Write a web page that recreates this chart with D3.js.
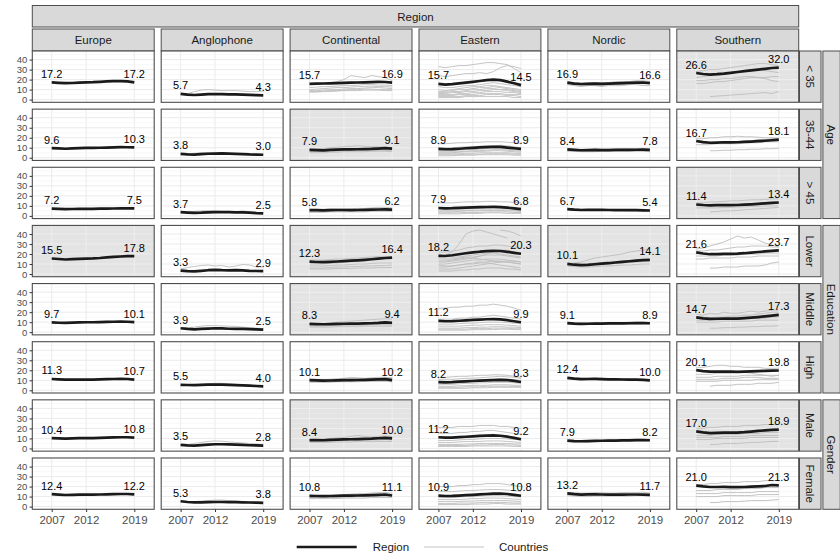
<!DOCTYPE html>
<html>
<head>
<meta charset="utf-8">
<script src="https://cdn.jsdelivr.net/npm/d3@7"></script>
<style>
  html, body { margin: 0; padding: 0; background: #fff; }
  svg { display: block; font-family: "Liberation Sans", Arial, Helvetica, sans-serif; }
</style>
</head>
<body>
<svg id="chart" width="840" height="558"></svg>
<script>
// ---------------- DATA ----------------
const years = [2007, 2008, 2009, 2010, 2011, 2012, 2013, 2014, 2015, 2016, 2017, 2018, 2019];
const xTickYears = [2007, 2012, 2019];
const yTickValues = [0, 10, 20, 30, 40];
const regions = ["Europe", "Anglophone", "Continental", "Eastern", "Nordic", "Southern"];
const groups = ["< 35", "35-44", "> 45", "Lower", "Middle", "High", "Male", "Female"];
const groupFamily = ["Age", "Age", "Age", "Education", "Education", "Education", "Gender", "Gender"];
const familyNames = ["Age", "Education", "Gender"];
const topStripLabel = "Region";
const legendLabels = ["Region", "Countries"];
const shadedPanels = [
  ["Southern"],
  ["Continental"],
  ["Southern"],
  ["Europe", "Continental", "Eastern", "Nordic"],
  ["Continental", "Southern"],
  [],
  ["Continental", "Southern"],
  []
];

// Region averages (rows = groups)
const europeMean = [
  [17.2, 16.8, 16.4, 16.6, 17.0, 17.2, 17.4, 17.8, 18.2, 18.4, 18.5, 18.3, 17.2],
  [9.6, 9.3, 9.0, 9.4, 9.7, 9.8, 9.9, 10.0, 10.2, 10.4, 10.6, 10.5, 10.3],
  [7.2, 7.0, 6.8, 6.9, 7.0, 7.0, 7.1, 7.2, 7.3, 7.4, 7.5, 7.6, 7.5],
  [15.5, 15.0, 14.5, 14.8, 15.2, 15.4, 15.6, 16.0, 16.6, 17.1, 17.5, 17.8, 17.8],
  [9.7, 9.4, 9.2, 9.5, 9.8, 9.9, 9.9, 10.0, 10.2, 10.4, 10.5, 10.4, 10.1],
  [11.3, 11.0, 10.7, 10.6, 10.6, 10.6, 10.7, 10.9, 11.1, 11.3, 11.4, 11.3, 10.7],
  [10.4, 10.1, 9.8, 10.1, 10.3, 10.4, 10.4, 10.6, 10.8, 11.0, 11.2, 11.2, 10.8],
  [12.4, 12.0, 11.6, 11.8, 12.0, 12.0, 12.0, 12.1, 12.3, 12.5, 12.6, 12.6, 12.2]
];
const anglophoneMean = [
  [5.7, 5.0, 4.6, 5.0, 5.4, 5.5, 5.4, 5.3, 5.2, 5.0, 4.7, 4.5, 4.3],
  [3.8, 3.3, 3.2, 3.6, 4.0, 4.2, 4.3, 4.1, 3.9, 3.6, 3.3, 3.2, 3.0],
  [3.7, 3.3, 3.0, 3.2, 3.6, 3.8, 3.9, 3.7, 3.5, 3.6, 3.3, 2.8, 2.5],
  [3.3, 2.8, 2.6, 3.2, 3.8, 4.2, 3.8, 3.6, 3.8, 3.6, 3.2, 3.0, 2.9],
  [3.9, 3.2, 2.8, 3.2, 3.6, 3.9, 3.7, 3.4, 3.3, 3.2, 3.0, 2.8, 2.5],
  [5.5, 5.3, 5.2, 5.4, 5.6, 5.7, 5.6, 5.4, 5.2, 5.0, 4.7, 4.3, 4.0],
  [3.5, 3.0, 2.9, 3.3, 3.8, 4.2, 4.2, 4.0, 3.8, 3.5, 3.2, 3.0, 2.8],
  [5.3, 4.6, 4.2, 4.3, 4.5, 4.6, 4.6, 4.5, 4.4, 4.3, 4.1, 3.9, 3.8]
];
const continentalMean = [
  [15.7, 15.9, 16.1, 16.3, 16.5, 16.7, 16.9, 17.1, 17.3, 17.5, 17.7, 17.6, 16.9],
  [7.9, 7.6, 7.3, 7.8, 8.2, 8.3, 8.4, 8.5, 8.6, 8.8, 9.2, 9.6, 9.1],
  [5.8, 5.7, 5.6, 5.8, 5.9, 5.9, 5.8, 5.9, 6.0, 6.2, 6.4, 6.5, 6.2],
  [12.3, 12.0, 11.8, 12.1, 12.5, 12.9, 13.3, 13.7, 14.2, 14.8, 15.4, 16.0, 16.4],
  [8.3, 8.1, 7.9, 8.1, 8.3, 8.4, 8.5, 8.6, 8.7, 8.9, 9.2, 9.7, 9.4],
  [10.1, 9.9, 9.7, 9.8, 10.0, 10.1, 10.2, 10.3, 10.5, 10.7, 10.9, 11.2, 10.2],
  [8.4, 8.3, 8.2, 8.5, 8.8, 9.0, 9.2, 9.4, 9.6, 9.8, 10.2, 10.6, 10.0],
  [10.8, 10.6, 10.4, 10.6, 10.8, 10.9, 11.0, 11.1, 11.3, 11.5, 11.8, 12.1, 11.1]
];
const easternMean = [
  [15.7, 15.0, 15.4, 16.2, 17.0, 17.8, 18.6, 19.4, 20.0, 19.5, 18.0, 16.3, 14.5],
  [8.9, 8.5, 8.6, 9.0, 9.5, 9.9, 10.3, 10.7, 11.0, 10.8, 10.2, 9.5, 8.9],
  [7.9, 7.6, 7.7, 8.0, 8.3, 8.5, 8.7, 8.9, 9.0, 8.8, 8.2, 7.5, 6.8],
  [18.2, 18.0, 18.8, 19.8, 20.8, 21.6, 22.3, 22.8, 23.2, 23.0, 22.2, 21.2, 20.3],
  [11.2, 10.9, 11.0, 11.4, 11.8, 12.2, 12.6, 12.9, 13.1, 12.8, 12.0, 10.9, 9.9],
  [8.2, 8.0, 8.2, 8.6, 9.0, 9.3, 9.6, 9.9, 10.2, 10.4, 10.2, 9.5, 8.3],
  [11.2, 10.8, 10.9, 11.3, 11.7, 12.1, 12.5, 12.8, 13.0, 12.7, 11.8, 10.5, 9.2],
  [10.9, 10.6, 10.7, 11.0, 11.4, 11.8, 12.2, 12.6, 13.0, 13.1, 12.6, 11.7, 10.8]
];
const nordicMean = [
  [16.9, 16.0, 15.6, 15.8, 16.0, 15.7, 16.0, 16.2, 16.5, 16.8, 17.0, 17.1, 16.6],
  [8.4, 7.9, 7.5, 7.6, 7.8, 7.7, 7.7, 7.8, 7.8, 7.9, 8.0, 8.1, 7.8],
  [6.7, 6.2, 5.9, 6.0, 6.1, 6.0, 5.9, 5.8, 5.8, 5.7, 5.7, 5.6, 5.4],
  [10.1, 9.3, 8.8, 9.2, 9.8, 10.3, 10.8, 11.5, 12.2, 12.8, 13.4, 13.8, 14.1],
  [9.1, 8.6, 8.3, 8.4, 8.6, 8.6, 8.7, 8.8, 8.8, 8.9, 9.0, 9.1, 8.9],
  [12.4, 11.6, 11.2, 11.3, 11.4, 11.2, 11.0, 10.9, 10.8, 10.7, 10.6, 10.5, 10.0],
  [7.9, 7.4, 7.2, 7.4, 7.6, 7.7, 7.8, 7.9, 8.0, 8.1, 8.3, 8.4, 8.2],
  [13.2, 12.4, 12.0, 12.2, 12.3, 12.1, 12.0, 12.0, 12.0, 12.1, 12.1, 12.0, 11.7]
];
const southernMean = [
  [26.6, 25.6, 25.0, 25.4, 26.0, 26.8, 27.6, 28.4, 29.2, 30.0, 30.8, 31.6, 32.0],
  [16.7, 15.6, 15.0, 15.2, 15.5, 15.4, 15.5, 15.8, 16.2, 16.6, 17.0, 17.5, 18.1],
  [11.4, 10.9, 10.6, 10.7, 10.8, 10.7, 10.9, 11.2, 11.6, 12.0, 12.5, 13.0, 13.4],
  [21.6, 20.5, 19.8, 19.9, 20.1, 20.2, 20.4, 20.8, 21.4, 22.0, 22.6, 23.2, 23.7],
  [14.7, 13.8, 13.2, 13.4, 13.6, 13.5, 13.6, 14.0, 14.5, 15.1, 15.8, 16.6, 17.3],
  [20.1, 19.2, 18.6, 18.6, 18.8, 18.7, 18.5, 18.7, 19.0, 19.2, 19.4, 19.6, 19.8],
  [17.0, 16.0, 15.4, 15.6, 15.9, 15.8, 15.9, 16.3, 16.9, 17.5, 18.0, 18.5, 18.9],
  [21.0, 20.2, 19.6, 19.6, 19.7, 19.5, 19.4, 19.6, 19.9, 20.2, 20.6, 21.6, 21.3]
];

// Country series (rows = groups, each row a list of countries)
const europeCountries = [[], [], [], [], [], [], [], []];
const anglophoneCountries = [
  [[5.5, 6, 8, 9.5, 10, 9.5, 9, 9, 9, 8.5, 8, 8, 8.5], [5.8, 4.9, 4.4, 4.7, 5, 5.1, 5, 4.9, 4.8, 4.6, 4.4, 4.2, 4.0]],
  [[4, 3.8, 4.5, 5, 5.2, 5, 4.5, 4, 3.8, 3.6, 3.5, 3.4, 3.2], [3.7, 3.2, 3.0, 3.4, 3.9, 4.1, 4.2, 4.1, 3.9, 3.6, 3.3, 3.1, 3.0]],
  [[3.5, 4, 4.5, 5, 5.3, 5, 4.5, 4.5, 4.3, 5, 4.3, 3.5, 3.0], [3.7, 3.2, 2.9, 3.1, 3.5, 3.7, 3.8, 3.6, 3.4, 3.5, 3.2, 2.7, 2.4]],
  [[5, 6.5, 7.5, 8.5, 9, 8, 8.5, 7, 8, 9.5, 9, 7, 7], [3.2, 2.6, 2.4, 3.0, 3.6, 4.0, 3.6, 3.4, 3.6, 3.4, 3.0, 2.8, 2.7]],
  [[3.5, 4, 5, 6, 6.5, 6.5, 6.3, 6, 5.7, 5, 4.5, 4, 3.5], [3.9, 3.1, 2.7, 3.1, 3.5, 3.8, 3.6, 3.3, 3.2, 3.1, 2.9, 2.7, 2.4]],
  [[5, 5, 5.5, 6, 6.5, 7, 7, 6.5, 6, 5.5, 5, 4.5, 4.2], [5.5, 5.3, 5.1, 5.3, 5.5, 5.6, 5.5, 5.3, 5.1, 4.9, 4.6, 4.2, 3.9]],
  [[3.5, 4, 5, 6, 7, 7.5, 7.2, 6.5, 6, 5.5, 5, 4.5, 4], [3.5, 2.9, 2.8, 3.2, 3.7, 4.1, 4.1, 3.9, 3.7, 3.4, 3.1, 2.9, 2.7]],
  [[5.5, 5, 5, 5.5, 6, 6.5, 6.5, 6, 5.5, 5, 4.5, 4.2, 4], [5.3, 4.6, 4.1, 4.2, 4.4, 4.5, 4.5, 4.4, 4.3, 4.2, 4.0, 3.8, 3.7]]
];
const continentalCountries = [
  [[15, 15.5, 16, 17, 18, 20, 24, 23, 22, 24, 23, 22, 19], [10, 10.5, 11, 11.5, 12, 12, 12.5, 13, 13, 13.5, 13, 13, 12.5],
   [9, 9, 9.5, 10, 10, 10.5, 11, 11, 11.5, 12, 12, 11.5, 11], [8, 8, 8.5, 9, 9, 9.5, 10, 10, 10.5, 10.5, 10, 10, 10],
   [12, 12.5, 13, 13, 13.5, 14, 14, 14.5, 15, 15, 14.5, 14.5, 14], [7.5, 7.5, 8, 8, 8.5, 9, 9, 9, 9.5, 9.5, 9.5, 9, 9]],
  [[9, 9, 9.5, 10, 10.5, 11, 11.5, 12, 11.5, 11, 11, 10.5, 10], [7, 7, 7, 7.5, 8, 8, 8, 8.5, 8.5, 9, 9, 9, 8.5],
   [6, 6, 6, 6.5, 6.5, 7, 7, 7, 7.5, 7.5, 7.5, 7.5, 7], [5, 5, 5, 5.5, 5.5, 6, 6, 6, 6, 6.5, 6.5, 6.5, 6],
   [8, 8, 8, 8.5, 9, 9, 9.5, 9.5, 9.5, 10, 10, 10, 9.5]],
  [[4.5, 4.5, 4.5, 5, 5, 5, 5, 5, 5.5, 5.5, 5.5, 5.5, 5.5], [6.5, 6.5, 6.5, 7, 7, 7, 7, 7.5, 7.5, 8, 8.5, 8.5, 8],
   [3.5, 3.5, 3.5, 4, 4, 4, 4, 4, 4, 4.5, 4.5, 4.5, 4.5], [5, 5, 5, 5, 5.5, 5.5, 5.5, 5.5, 5.5, 6, 6, 6, 6]],
  [[10, 10, 10, 11, 11, 12, 12, 13, 13, 14, 15, 16, 16], [8, 8, 8, 8.5, 9, 9, 9.5, 10, 10, 10.5, 11, 11, 11],
   [6, 6, 6, 6.5, 7, 7, 7.5, 7.5, 8, 8, 8.5, 8.5, 9], [14, 14, 14, 14.5, 15, 15, 15.5, 16, 16.5, 17, 17.5, 17, 16.5],
   [5, 5, 5, 5, 5.5, 5.5, 5.5, 6, 6, 6, 6.5, 6.5, 6.5]],
  [[8, 8, 8.5, 9, 10, 10.5, 11, 11.5, 12, 12.5, 13, 13.5, 13], [6, 6, 6, 6.5, 6.5, 7, 7, 7, 7, 7.5, 7.5, 7.5, 7],
   [5, 5, 5, 5, 5.5, 5.5, 5.5, 5.5, 6, 6, 6, 6, 6], [7, 7, 7, 7, 7.5, 7.5, 7.5, 8, 8, 8, 8, 8.5, 8]],
  [[10, 10, 10.5, 11, 11.5, 12, 13, 12.5, 12, 12.5, 13, 13, 12.5], [9, 9, 8.5, 8.5, 9, 9, 9, 9, 9, 9.5, 9.5, 9.5, 9],
   [8, 8, 8, 8, 8.5, 8.5, 8.5, 8.5, 9, 9, 9, 9, 8.5], [11, 11, 11, 11, 11, 11, 11.5, 11.5, 11.5, 12, 12, 12, 11.5]],
  [[9, 9, 9.5, 10, 10.5, 11, 12, 13, 12, 11.5, 12, 12.5, 12], [7, 7, 7, 7.5, 7.5, 8, 8, 8, 8.5, 8.5, 8.5, 9, 8.5],
   [6, 6, 6, 6, 6.5, 6.5, 6.5, 7, 7, 7, 7, 7, 7], [8, 8, 8, 8.5, 8.5, 9, 9, 9, 9.5, 9.5, 9.5, 10, 9.5]],
  [[10, 10, 10.5, 11, 11.5, 12, 12.5, 13, 13, 13.5, 14, 14, 13.5], [9, 9, 9, 9, 9.5, 9.5, 9.5, 10, 10, 10, 10, 10, 10],
   [8, 8, 8, 8, 8, 8.5, 8.5, 8.5, 8.5, 9, 9, 9, 9], [11, 11, 11, 11, 11, 11.5, 11.5, 11.5, 11.5, 12, 12, 12, 11.5]]
];
const easternCountries = [
  [[33, 32, 33, 34, 34, 35, 36, 37, 37, 36, 35, 31, 27], [24, 23, 24, 25, 26, 26, 27, 26, 28, 32, 34, 33, 31],
   [13, 12, 12, 13, 14, 14, 15, 16, 17, 16, 15, 14, 13], [10, 9, 10, 11, 12, 13, 13, 14, 14, 13, 12, 11, 10],
   [8, 8, 9, 10, 10, 11, 12, 12, 13, 12, 11, 10, 9], [6, 6, 7, 7, 8, 8, 9, 9, 10, 10, 9, 8, 7],
   [5, 5, 5, 6, 6, 7, 7, 8, 8, 8, 7, 7, 6], [4, 4, 4, 5, 5, 5, 6, 6, 6, 6, 5, 5, 5],
   [3, 3, 3, 3, 4, 4, 4, 5, 5, 5, 4, 4, 3], [7, 7, 8, 8, 9, 10, 10, 11, 11, 10, 10, 9, 8],
   [2, 2, 2, 2, 3, 3, 3, 3, 3, 3, 3, 2, 2]],
  [[14, 14, 14.5, 15, 15, 15.5, 15.5, 16, 16, 16, 15.5, 15, 14], [10, 10, 10, 10.5, 11, 11, 11.5, 12, 12, 12.5, 12, 11, 10],
   [7, 7, 7, 7.5, 8, 8, 8.5, 9, 9, 9, 8.5, 8, 7.5], [5, 5, 5, 5.5, 6, 6, 6.5, 6.5, 7, 7, 6.5, 6, 5.5],
   [4, 4, 4, 4, 4.5, 4.5, 5, 5, 5, 5, 5, 4.5, 4.5], [3, 3, 3, 3, 3.5, 3.5, 3.5, 4, 4, 4, 4, 3.5, 3.5],
   [2, 2, 2, 2.5, 2.5, 2.5, 3, 3, 3, 3, 3, 2.5, 2.5], [6, 6, 6, 6, 6.5, 7, 7, 7.5, 8, 8, 7.5, 7, 6.5]],
  [[13, 13, 13, 13.5, 14, 14, 14, 14.5, 14.5, 14, 14, 13.5, 13], [6, 6, 6, 6.5, 7, 7, 7.5, 7.5, 8, 8, 7.5, 7, 6.5],
   [4, 4, 4, 4.5, 5, 5, 5, 5.5, 5.5, 5.5, 5, 5, 4.5], [3, 3, 3, 3, 3.5, 3.5, 3.5, 4, 4, 4, 4, 3.5, 3.5],
   [2, 2, 2, 2, 2.5, 2.5, 2.5, 3, 3, 3, 2.5, 2.5, 2.5], [5, 5, 5, 5, 5.5, 5.5, 6, 6, 6, 6, 6, 5.5, 5]],
  [[17, 19, 22, 30, 40, 43, 44, 42, 40, 38, 36, null, null], [null, null, null, null, null, null, null, null, null, 44, 43, 41, 38],
   [22, 22, 23, 24, 26, 27, 28, 28, 29, 29, 28, 27, 26], [12, 12, 13, 14, 15, 16, 18, 20, 22, 24, 24, 22, 20],
   [15, 15, 15, 16, 17, 17, 18, 19, 19, 19, 18, 17, 16], [10, 10, 11, 12, 13, 14, 14, 15, 15, 15, 14, 13, 12],
   [7, 7, 8, 9, 10, 11, 12, 12, 13, 13, 12, 11, 10], [5, 5, 5, 6, 7, 8, 9, 10, 11, 12, 13, 13, 12],
   [3, 3, 3, 4, 4, 5, 5, 6, 6, 6, 5, 5, 4], [9, 8, 8, 9, 10, 10, 11, 11, 10, 9, 8, 7, 6],
   [13, 13, 14, 15, 16, 16, 15, 14, 13, 12, 12, 11, 10], [20, 18, 17, 17, 18, 19, 20, 21, 21, 20, 19, 18, 17]],
  [[24, 24, 25, 25, 26, 26, 27, 27, 28, 27, 26, 24, 22], [13, 13, 13, 14, 14, 15, 15, 16, 17, 16, 15, 14, 13],
   [8, 8, 8, 8.5, 9, 9, 9.5, 10, 10, 10, 9.5, 9, 8.5], [6, 6, 6, 6, 6.5, 7, 7, 7.5, 7.5, 7.5, 7, 6.5, 6],
   [4, 4, 4, 4, 4.5, 4.5, 5, 5, 5.5, 5.5, 5, 5, 4.5], [3, 3, 3, 3, 3, 3.5, 3.5, 3.5, 4, 4, 4, 3.5, 3.5],
   [2, 2, 2, 2, 2, 2.5, 2.5, 2.5, 2.5, 3, 3, 2.5, 2.5]],
  [[13, 13, 13.5, 14, 14, 14.5, 15, 15, 15.5, 15.5, 15, 14, 13], [11, 11, 11, 11.5, 12, 12, 12.5, 13, 13.5, 14, 13.5, 13, 12],
   [6, 6, 6, 6.5, 7, 7, 7.5, 7.5, 8, 8, 8, 7.5, 7], [4, 4, 4, 4.5, 4.5, 5, 5, 5, 5.5, 5.5, 5.5, 5, 5],
   [3, 3, 3, 3, 3.5, 3.5, 3.5, 4, 4, 4, 4, 4, 3.5], [2, 2, 2, 2, 2, 2.5, 2.5, 2.5, 3, 3, 3, 3, 3],
   [9, 9, 9, 9.5, 10, 10, 10.5, 11, 11, 11.5, 11, 10.5, 10]],
  [[21, 21, 21, 22, 22, 22, 23, 23, 23, 22, 22, 21, 20], [15, 15, 15, 16, 16, 17, 17, 18, 18, 17, 16, 15, 14],
   [8, 8, 8, 8.5, 9, 9, 9.5, 10, 10, 10, 9.5, 9, 8.5], [6, 6, 6, 6.5, 7, 7, 7, 7.5, 7.5, 7.5, 7, 6.5, 6],
   [4, 4, 4, 4, 4.5, 4.5, 5, 5, 5, 5, 5, 4.5, 4.5], [3, 3, 3, 3, 3, 3.5, 3.5, 3.5, 4, 4, 3.5, 3.5, 3],
   [2, 2, 2, 2, 2, 2.5, 2.5, 2.5, 2.5, 2.5, 2.5, 2, 2]],
  [[20, 20, 20, 21, 21, 22, 22, 23, 23, 23, 22, 21, 20], [15, 15, 15, 15.5, 16, 16, 16.5, 17, 17, 17, 16.5, 16, 15],
   [9, 9, 9, 9.5, 10, 10, 10.5, 11, 11, 11, 10.5, 10, 9.5], [7, 7, 7, 7, 7.5, 8, 8, 8.5, 8.5, 8.5, 8, 7.5, 7],
   [5, 5, 5, 5, 5.5, 5.5, 6, 6, 6, 6, 6, 5.5, 5], [3, 3, 3, 3.5, 3.5, 3.5, 4, 4, 4, 4, 4, 3.5, 3.5],
   [2, 2, 2, 2, 2, 2.5, 2.5, 2.5, 3, 3, 2.5, 2.5, 2.5]]
];
const nordicCountries = [
  [[18, 17, 16, 16, 17, 17, 17, 18, 18, 18, 19, 19, 18], [16, 15, 14, 14, 15, 14, 15, 15, 15, 16, 16, 16, 15],
   [15, 14, 13, 14, 14, 13, 14, 14, 14, 15, 15, 14, 14], [17, 17, 16, 17, 17, 16, 16, 17, 17, 17, 17, 18, 17]],
  [[9, 8.5, 8, 8, 8.5, 8.5, 8.5, 8.5, 9, 9, 9, 9, 8.5], [7, 7, 6.5, 6.5, 7, 7, 7, 7, 7, 7, 7, 7, 6.5],
   [8, 7.5, 7, 7.5, 7.5, 7.5, 7, 7, 7.5, 7.5, 8, 8, 7.5], [6.5, 6.5, 6, 6, 6, 6.5, 6.5, 6.5, 6.5, 6.5, 6.5, 6.5, 6]],
  [[7.5, 7, 6.5, 6.5, 6.5, 6.5, 6.5, 6.5, 6.5, 6.5, 6.5, 6.5, 6], [6, 5.5, 5.5, 5.5, 5.5, 5.5, 5.5, 5.5, 5.5, 5, 5, 5, 5],
   [6.5, 6, 5.5, 5.5, 6, 5.5, 5.5, 5.5, 5.5, 5.5, 5.5, 5.5, 5]],
  [[10, 11, 12, 14, 16, 17, 18, 19, 20, 22, 23, 24, 25], [9, 8, 8, 8.5, 9, 9.5, 10, 10.5, 11, 11.5, 12, 12.5, 13],
   [8, 7.5, 7, 7, 7.5, 8, 8, 8.5, 9, 9, 9.5, 10, 10], [11, 10, 10, 10.5, 11, 11.5, 12, 12.5, 13, 13, 13.5, 14, 14]],
  [[10, 9.5, 9, 9, 9.5, 9.5, 9.5, 9.5, 9.5, 10, 10, 10, 9.5], [8, 7.5, 7.5, 7.5, 8, 8, 8, 8, 8, 8, 8, 8.5, 8],
   [9, 8.5, 8, 8, 8.5, 8.5, 8.5, 8.5, 8.5, 8.5, 9, 9, 8.5]],
  [[13, 12.5, 12, 12, 12, 12, 11.5, 11.5, 11.5, 11, 11, 11, 10.5], [11.5, 11, 10.5, 10.5, 11, 10.5, 10.5, 10.5, 10, 10, 10, 10, 9.5],
   [12.5, 11.5, 11, 11, 11.5, 11, 11, 11, 11, 11, 10.5, 10.5, 10]],
  [[8.5, 8, 7.5, 8, 8, 8, 8.5, 8.5, 8.5, 8.5, 9, 9, 8.5], [7, 6.5, 6.5, 6.5, 7, 7, 7, 7, 7.5, 7.5, 7.5, 7.5, 7.5],
   [8, 7.5, 7, 7.5, 7.5, 7.5, 8, 8, 8, 8, 8, 8.5, 8]],
  [[14, 14, 13.5, 13.5, 14, 14, 13.5, 13.5, 14, 14, 14, 14.5, 13.5], [11, 10.5, 10, 10, 10.5, 10.5, 10.5, 10.5, 10.5, 10.5, 11, 11, 10.5],
   [13, 12, 11.5, 12, 12, 12, 11.5, 11.5, 11.5, 12, 12, 11.5, 11.5]]
];
const southernCountries = [
  [[28, 29, 30, 30, 31, 32, 33, 34, 35, 36, 36, 35, 34], [22, 23, 24, 24, 25, 27, 28, 29, 30, 30, 29, 28, 27],
   [19, 19, 20, 20, 21, 21, 22, 23, 23, 22, 21, 19, 18], [16, 16, 17, 18, 18, 19, 20, 21, 22, 22, 22, 23, 23],
   [null, null, 3, 3.5, 4, 4.5, 5, 5.5, 6, 6.5, 7, 6, 8]],
  [[19, 19, 20, 20, 21, 21, 21.5, 21, 21, 20.5, 20, 20, 19.5], [16, 15, 15, 15, 16, 16, 16, 17, 17, 18, 18, 19, 19],
   [13, 13, 13, 14, 14, 14, 14, 15, 15, 15, 16, 16, 16], [null, null, 7, 7, 7.5, 7.5, 8, 8, 8.5, 8.5, 9, 9, 9.5]],
  [[13, 13, 14, 14, 14.5, 15, 15, 15.5, 16, 16, 16.5, 17, 17], [10, 10, 10, 10.5, 11, 11, 11.5, 11.5, 12, 12, 12.5, 12.5, 12.5],
   [8, 8, 8, 8, 8.5, 8.5, 9, 9, 9.5, 9.5, 10, 10, 10], [null, null, 4, 4.5, 5, 5, 5.5, 6, 6.5, 7, 7.5, 8, 8.5]],
  [[25, 26, 28, 30, 32, 35, 38, 36, 37, 34, 31, 29, 27], [23, 23, 24, 24, 25, 26, 27, 27, 28, 28, 28, 27, 27],
   [18, 18, 18, 18, 19, 19, 19, 20, 20, 20, 21, 21, 21], [15, 15, 16, 16, 16, 16, 17, 17, 17, 18, 18, 18, 18],
   [null, null, 6, 6, 7, 7, 7, 8, 8, 8, 9, 11, 12]],
  [[18, 17, 19, 18, 20, 19, 19, 20, 21, 20, 21, 22, 22], [15, 15, 14, 15, 15, 16, 16, 17, 17, 18, 19, 20, 20],
   [12, 12, 12, 12, 13, 13, 13, 13, 14, 14, 14, 15, 15], [10, 10, 10, 10, 11, 11, 11, 11, 11, 12, 12, 12, 12],
   [null, null, 4, 4, 4.5, 4.5, 5, 5, 5.5, 5.5, 6, 6, 6.5]],
  [[23, 23, 24, 25, 25, 24, 24, 23, 23, 23, 22, 22, 22], [16, 16, 16, 17, 17, 17, 18, 18, 17, 16, 15, 14, 15],
   [13, 13, 13, 14, 14, 14, 14, 15, 15, 15, 15, 15, 15], [11, 11, 11, 11, 12, 12, 12, 13, 13, 13, 12, 12, 12],
   [null, null, 4, 5, 5, 5, 6, 6, 6, 7, 7, 7, 8], [9, 9, 9, 9, 10, 10, 10, 10, 10, 11, 11, 11, 11]],
  [[20, 20, 21, 21, 22, 22, 22, 23, 23, 23, 24, 24, 24], [13, 13, 13, 14, 14, 14, 14, 15, 15, 15, 16, 16, 16],
   [11, 11, 11, 11, 12, 12, 12, 12, 13, 13, 13, 13, 13], [9, 9, 9, 10, 10, 10, 10, 10, 11, 11, 11, 11, 11],
   [null, null, 4, 4, 5, 5, 5, 5.5, 6, 6, 6.5, 7, 7]],
  [[22, 22, 23, 23, 24, 24, 24, 25, 25, 25, 26, 26, 26], [16, 16, 16, 17, 17, 17, 17, 18, 18, 18, 19, 19, 19],
   [13, 13, 13, 13, 14, 14, 14, 14, 14, 15, 15, 15, 15], [10, 10, 10, 10, 11, 11, 11, 11, 11, 12, 12, 12, 12],
   [null, null, 4, 4, 5, 5, 5, 5.5, 6, 6, 6, 6.5, 7]]
];

const regionMeans = [europeMean, anglophoneMean, continentalMean, easternMean, nordicMean, southernMean];
const regionCountries = [europeCountries, anglophoneCountries, continentalCountries, easternCountries, nordicCountries, southernCountries];

// ---------------- LAYOUT ----------------
const L = { left: 32.3, top: 51, pw: 121.9, ph: 51.3, colStep: 128.9, rowStep: 58.14 };
const FONT = '"Liberation Sans", Arial, Helvetica, sans-serif';
const STRIP_FILL = "#d9d9d9", BORDER = "#4d4d4d";
const COUNTRY_COLOR = "#bdbdbd";

const svg = d3.select("#chart");
const x = d3.scaleLinear().domain([2004.18, 2021.89]).range([0, L.pw]);
const y = d3.scaleLinear().domain([-2.7, 48.6]).range([L.ph, 0]);
const fmt = d3.format(".1f");

const line = d3.line()
  .defined(d => d[1] != null)
  .x(d => x(d[0]))
  .y(d => y(d[1]))
  .curve(d3.curveLinear);

const rightEdge = L.left + 5 * L.colStep + L.pw;

// Top "Region" strip
svg.append("rect").attr("x", L.left).attr("y", 5.5).attr("width", rightEdge - L.left).attr("height", 21.5)
  .attr("fill", STRIP_FILL).attr("stroke", BORDER).attr("stroke-width", 1);
svg.append("text").attr("x", (L.left + rightEdge) / 2).attr("y", 16.5).attr("dy", "0.35em")
  .attr("text-anchor", "middle").attr("font-size", 11.5).attr("fill", "#1a1a1a").text(topStripLabel);

// Column strips
regions.forEach((r, ci) => {
  const x0 = L.left + ci * L.colStep;
  svg.append("rect").attr("x", x0).attr("y", 29).attr("width", L.pw).attr("height", 22)
    .attr("fill", STRIP_FILL).attr("stroke", BORDER).attr("stroke-width", 1);
  svg.append("text").attr("x", x0 + L.pw / 2).attr("y", 40).attr("dy", "0.35em")
    .attr("text-anchor", "middle").attr("font-size", 11.5).attr("fill", "#1a1a1a").text(r);
});

// Panels
groups.forEach((g, ri) => {
  const y0 = L.top + ri * L.rowStep;
  regions.forEach((r, ci) => {
    const x0 = L.left + ci * L.colStep;
    const p = svg.append("g").attr("transform", `translate(${x0},${y0})`);
    const shaded = shadedPanels[ri].includes(r);
    p.append("rect").attr("width", L.pw).attr("height", L.ph).attr("fill", shaded ? "#e3e3e3" : "#ffffff");
    // minor grid
    const minorY = [5, 15, 25, 35, 45];
    p.selectAll(".gmy").data(minorY).join("line")
      .attr("x1", 0).attr("x2", L.pw).attr("y1", d => y(d)).attr("y2", d => y(d))
      .attr("stroke", shaded ? "#eaeaea" : "#f2f2f2").attr("stroke-width", 0.5);
    // major grid
    p.selectAll(".gy").data(yTickValues).join("line")
      .attr("x1", 0).attr("x2", L.pw).attr("y1", d => y(d)).attr("y2", d => y(d))
      .attr("stroke", shaded ? "#eeeeee" : "#ebebeb").attr("stroke-width", 1);
    p.selectAll(".gx").data(xTickYears).join("line")
      .attr("y1", 0).attr("y2", L.ph).attr("x1", d => x(d)).attr("x2", d => x(d))
      .attr("stroke", shaded ? "#eeeeee" : "#ebebeb").attr("stroke-width", 1);

    // countries
    const cs = regionCountries[ci][ri];
    cs.forEach(series => {
      p.append("path").datum(years.map((yr, i) => [yr, series[i]]))
        .attr("d", line).attr("fill", "none").attr("stroke", COUNTRY_COLOR).attr("stroke-width", 0.9);
    });
    // region mean
    const m = regionMeans[ci][ri];
    p.append("path").datum(years.map((yr, i) => [yr, m[i]]))
      .attr("d", line).attr("fill", "none").attr("stroke", "#1a1a1a").attr("stroke-width", 2.7)
      .attr("stroke-linejoin", "round").attr("stroke-linecap", "butt");
    // labels
    [[years[0], m[0]], [years[years.length - 1], m[m.length - 1]]].forEach(([yr, v]) => {
      p.append("text").attr("x", x(yr)).attr("y", y(v) - 4.5)
        .attr("text-anchor", "middle").attr("font-size", 11).attr("fill", "#000").text(fmt(v));
    });
    // border
    p.append("rect").attr("width", L.pw).attr("height", L.ph).attr("fill", "none")
      .attr("stroke", BORDER).attr("stroke-width", 1.1);

    // axes
    if (ci === 0) {
      const ay = p.append("g").call(d3.axisLeft(y).tickValues(yTickValues).tickSize(2.75).tickPadding(2.2));
      ay.select(".domain").remove();
      ay.selectAll("line").attr("stroke", "#333");
      ay.selectAll("text").attr("font-size", 9.5).attr("fill", "#4d4d4d").attr("font-family", FONT);
    }
    if (ri === groups.length - 1) {
      const ax = p.append("g").attr("transform", `translate(0,${L.ph})`)
        .call(d3.axisBottom(x).tickValues(xTickYears).tickFormat(d3.format("d")).tickSize(2.75).tickPadding(3.5));
      ax.select(".domain").remove();
      ax.selectAll("line").attr("stroke", "#333");
      ax.selectAll("text").attr("font-size", 11.5).attr("fill", "#4d4d4d").attr("font-family", FONT);
    }
  });

  // inner right strip
  const sx = rightEdge + 0.8;
  svg.append("rect").attr("x", sx).attr("y", y0).attr("width", 21.5).attr("height", L.ph)
    .attr("fill", STRIP_FILL).attr("stroke", BORDER).attr("stroke-width", 1);
  svg.append("text").attr("transform", `translate(${sx + 10.75},${y0 + L.ph / 2}) rotate(90)`)
    .attr("dy", "0.35em").attr("text-anchor", "middle").attr("font-size", 11.5).attr("fill", "#1a1a1a").text(g);
});

// outer right strips
familyNames.forEach(f => {
  const idx = groupFamily.map((gf, i) => gf === f ? i : -1).filter(i => i >= 0);
  const yTop = L.top + d3.min(idx) * L.rowStep;
  const yBot = L.top + d3.max(idx) * L.rowStep + L.ph;
  const ox = rightEdge + 24.2;
  svg.append("rect").attr("x", ox).attr("y", yTop).attr("width", 17.3).attr("height", yBot - yTop)
    .attr("fill", STRIP_FILL).attr("stroke", BORDER).attr("stroke-width", 1);
  svg.append("text").attr("transform", `translate(${ox + 8.4},${(yTop + yBot) / 2}) rotate(90)`)
    .attr("dy", "0.35em").attr("text-anchor", "middle").attr("font-size", 11.5).attr("fill", "#1a1a1a").text(f);
});

// legend
const lg = svg.append("g").attr("transform", "translate(0,547)");
lg.append("line").attr("x1", 296.7).attr("x2", 356.7).attr("y1", 0).attr("y2", 0)
  .attr("stroke", "#1a1a1a").attr("stroke-width", 2.7);
lg.append("text").attr("x", 372.7).attr("y", 0).attr("dy", "0.35em").attr("font-size", 11.5).attr("fill", "#1a1a1a").text(legendLabels[0]);
lg.append("line").attr("x1", 424).attr("x2", 484).attr("y1", 0).attr("y2", 0)
  .attr("stroke", COUNTRY_COLOR).attr("stroke-width", 0.9);
lg.append("text").attr("x", 499).attr("y", 0).attr("dy", "0.35em").attr("font-size", 11.5).attr("fill", "#1a1a1a").text(legendLabels[1]);
</script>
</body>
</html>
